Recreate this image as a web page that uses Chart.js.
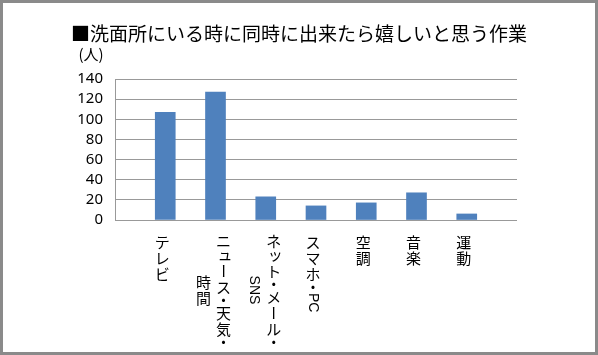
<!DOCTYPE html>
<html><head><meta charset="utf-8">
<script src="https://cdn.jsdelivr.net/npm/chart.js@4/dist/chart.umd.min.js"></script>
<style>html,body{margin:0;padding:0;background:#fff}#wrap{width:598px;height:355px;position:relative}</style>
</head><body><div id="wrap"><canvas id="c" width="598" height="355"></canvas></div>
<script>
const chartTitle = "■洗面所にいる時に同時に出来たら嬉しいと思う作業";
const unitLabel = "(人)";
const categories = ["テレビ","ニュース・天気・時間","ネット・メール・SNS","スマホ・PC","空調","音楽","運動"];
const labelColumns = [["テレビ"],["ニュース・天気・","時間"],["ネット・メール・","SNS"],["スマホ・PC"],["空調"],["音楽"],["運動"]];
const values = [107,127,23,14,17,27,6];
const yMin = 0, yMax = 140, yStep = 20;

const CJK = '"Noto Sans CJK JP", "Noto Sans", sans-serif';

function advanceOf(ch){
  if (ch === '・') return 10;
  if ('ュッャョァィゥェォ'.includes(ch)) return 14;
  return 16;
}
function splitRuns(s){
  const runs=[]; let cur='';
  for (const ch of s){
    if (/[A-Za-z0-9]/.test(ch)) { cur+=ch; }
    else { if(cur){runs.push({latin:cur});cur='';} runs.push({ch}); }
  }
  if(cur) runs.push({latin:cur});
  return runs;
}
function colLength(ctx, s){
  let L=0;
  ctx.font = '14px "Liberation Sans", sans-serif';
  for (const r of splitRuns(s)) L += r.latin ? ctx.measureText(r.latin).width+2 : advanceOf(r.ch);
  return L;
}
function drawColumn(ctx, s, x, y0){
  let y=y0;
  for (const r of splitRuns(s)){
    if (r.latin){
      ctx.font = '14px "Liberation Sans", sans-serif';
      const w = ctx.measureText(r.latin).width;
      ctx.save(); ctx.translate(x, y+1); ctx.rotate(Math.PI/2);
      ctx.textAlign='left'; ctx.textBaseline='middle';
      ctx.fillText(r.latin, 0, 0); ctx.restore();
      y += w+2;
    } else {
      const a = advanceOf(r.ch);
      ctx.font = '15px ' + CJK;
      ctx.textAlign='center'; ctx.textBaseline='middle';
      if (r.ch === 'ー'){
        ctx.save(); ctx.translate(x, y+a/2); ctx.rotate(Math.PI/2);
        ctx.fillText(r.ch, 0, 0); ctx.restore();
      } else if (a===14){
        ctx.fillText(r.ch, x+1.5, y+a/2-1.5);
      } else {
        ctx.fillText(r.ch, x, y+a/2);
      }
      y += a;
    }
  }
}

const decor = {
  id:'decor',
  beforeDraw(chart){
    const ctx=chart.ctx; ctx.save(); ctx.fillStyle='#fff'; ctx.fillRect(0,0,chart.width,chart.height); ctx.restore();
  },
  afterDraw(chart){
    const ctx=chart.ctx; const xs=chart.scales.x; const ys=chart.scales.y;
    ctx.save();
    ctx.fillStyle='#000';
    ctx.font='19px '+CJK; ctx.textAlign='center'; ctx.textBaseline='middle';
    ctx.fillText(chartTitle, 299, 34);
    ctx.font='15px '+CJK;
    ctx.fillText(unitLabel, 91, ys.getPixelForValue(yMax)-25);
    const top = ys.getPixelForValue(yMin)+13;
    labelColumns.forEach((cols,i)=>{
      const cx = xs.getPixelForValue(i+1);
      if (cols.length===1){
        drawColumn(ctx, cols[0], cx-3, top+1);
      } else {
        const L0 = colLength(ctx, cols[0]);
        drawColumn(ctx, cols[0], cx+8, top);
        const L1 = colLength(ctx, cols[1]);
        drawColumn(ctx, cols[1], cx-12, top + L0/2 - L1/2);
      }
    });
    ctx.strokeStyle='#8a8a8a'; ctx.lineWidth=3;
    ctx.strokeRect(1.5,1.5,chart.width-3,chart.height-3);
    ctx.restore();
  }
};

new Chart(document.getElementById('c'), {
  type:'bar',
  data:{
    labels:['',...categories,''],
    datasets:[{data:[null,...values,null], backgroundColor:'#4f81bd', barThickness:20}]
  },
  options:{
    responsive:false, animation:false, devicePixelRatio:1,
    layout:{padding:{top:79,right:81,left:0,bottom:0}},
    plugins:{legend:{display:false},title:{display:false},tooltip:{enabled:false}},
    scales:{
      x:{offset:false, grid:{display:false}, border:{display:false}, ticks:{display:false},
         afterFit(s){ s.height = 135; }},
      y:{min:yMin,max:yMax, ticks:{stepSize:yStep,autoSkip:false,color:'#000',padding:12,font:{family:'"Noto Sans"',size:15}},
         grid:{color:'#999',drawTicks:false,lineWidth:1}, border:{display:true,color:'#999'},
         afterFit(s){ s.width = 115; }}
    }
  },
  plugins:[decor]
});
</script></body></html>
